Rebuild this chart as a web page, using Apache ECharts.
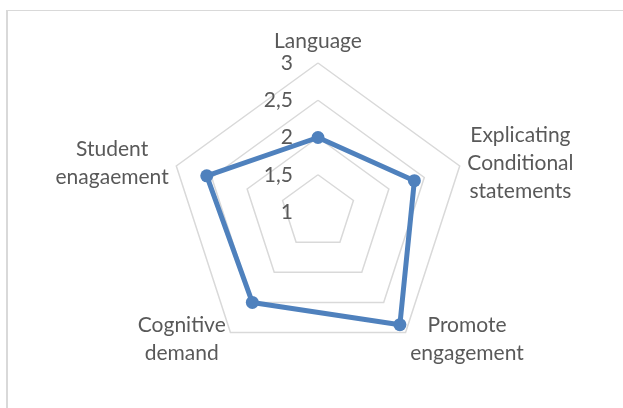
<!DOCTYPE html>
<html>
<head>
<meta charset="utf-8">
<script src="https://cdn.jsdelivr.net/npm/echarts@6/dist/echarts.min.js"></script>
<style>
  html, body { margin: 0; padding: 0; background: #fff; }
  #wrap { position: relative; width: 623px; height: 408px; overflow: hidden; }
  #frame { position: absolute; left: 6px; top: 10px; width: 700px; height: 500px;
           border-left: 2px solid #d9d9d9; border-top: 1px solid #d9d9d9; }
  #chart { position: absolute; left: 0; top: 0; width: 623px; height: 408px; }
</style>
</head>
<body>
<div id="wrap">
  <div id="frame"></div>
  <div id="chart"></div>
</div>
<script>
// indicators in ECharts order (counterclockwise from the top)
const categories = ['Language', 'Student\nenagaement', 'Cognitive\ndemand', 'Promote\nengagement', 'Explicating\nConditional\nstatements']
const scores = [2.0, 2.57, 2.5, 2.87, 2.36]
const axisMin = 1
const axisMax = 3

const textColor = '#595959'
const lineColor = '#4f81bd'
const font = 'Lato, "Open Sans", sans-serif'

const chart = echarts.init(document.getElementById('chart'))
chart.setOption({
  animation: false,
  radar: {
    center: [318, 212],
    radius: 149,
    shape: 'polygon',
    splitNumber: 4,
    nameGap: 8,
    axisName: {
      color: textColor,
      fontFamily: font,
      fontSize: 21,
      formatter: (name) => name.split('\n').map(s => '{c|' + s + '}').join('\n'),
      rich: { c: { align: 'center', color: textColor, fontFamily: font, fontSize: 21, lineHeight: 28 } }
    },
    axisLine: { show: false },
    axisTick: { show: false },
    axisLabel: { show: false },
    splitArea: { show: false },
    splitLine: { lineStyle: { color: '#d9d9d9', width: 1.5 } },
    indicator: categories.map((c, i) => ({
      name: c, min: axisMin, max: axisMax,
      axisLabel: i === 0 ? {
        show: true, color: textColor, fontFamily: font, fontSize: 21, margin: 25,
        formatter: v => String(v).replace('.', ',')
      } : { show: false }
    }))
  },
  series: [{
    type: 'radar',
    symbol: 'circle',
    symbolSize: 13,
    lineStyle: { color: lineColor, width: 5 },
    itemStyle: { color: lineColor },
    data: [{ value: scores }]
  }]
})
</script>
</body>
</html>
